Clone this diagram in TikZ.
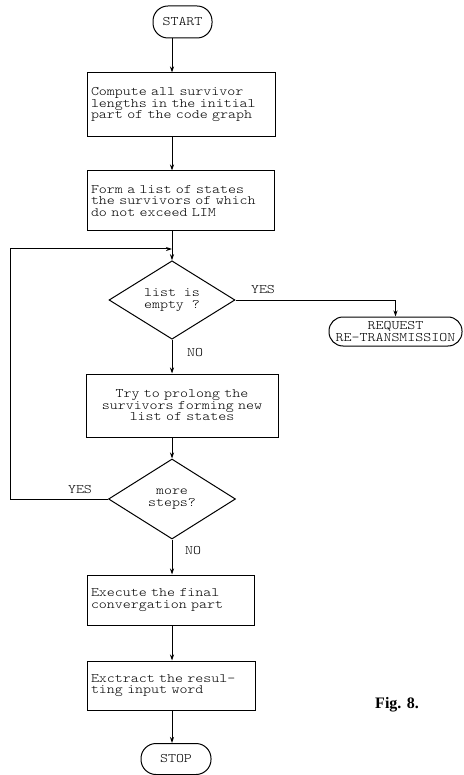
\documentclass[tikz,border=0pt]{standalone}
\usepackage{fontspec}
\setmonofont[FakeStretch=1.17,Extension=.otf]{lmmonolt10-regular}
\newfontfamily\figfont{Liberation Serif}
\usetikzlibrary{shapes.geometric,arrows.meta}
\begin{document}
\begin{tikzpicture}[x=1pt,y=-1pt,
 every node/.style={font=\ttfamily\fontsize{13}{11.5}\selectfont},
 procbox/.style={draw, line width=1pt, inner xsep=4pt, inner ysep=0pt, align=left},
 pill/.style={draw, line width=1pt, rounded corners=15pt, inner sep=0pt, align=center},
 decision/.style={draw, diamond, line width=1pt, inner sep=0pt, align=center},
 arr/.style={line width=1pt, -{Stealth[length=6pt,width=4pt]}},
 lbl/.style={inner sep=0pt}
]
\useasboundingbox (0,0) rectangle (463,775);

\node[pill, minimum width=59pt, minimum height=32pt] (start) at (182.5,22) {START};
\node[procbox, text width=180pt, minimum height=64pt] (b1) at (181,105) {Compute all survivor\\lengths in the initial\\part of the code graph};
\node[procbox, text width=179pt, minimum height=60pt] (b2) at (180.5,201) {Form a list of states\\the survivors of which\\do not exceed LIM};
\node[decision, minimum width=126pt, minimum height=78pt] (d1) at (172,300) {list is\\empty ?};
\node[pill, rounded corners=14pt, minimum width=133pt, minimum height=29pt] (req) at (395.5,331.5) {REQUEST\\RE-TRANSMISSION};
\node[procbox, align=center, text width=184pt, minimum height=63pt] (b3) at (182,405.5) {Try to prolong the\\survivors forming new\\list of states\\[4pt]};
\node[decision, minimum width=127pt, minimum height=80pt] (d2) at (172,499) {more\\steps?};
\node[procbox, text width=159pt, minimum height=50pt] (b4) at (170.5,600) {Execute the final\\convergation part};
\node[procbox, text width=160pt, minimum height=49pt] (b5) at (171,685.5) {Exctract the resul-\\ting input word};
\node[pill, minimum width=70pt, minimum height=31pt] (stop) at (176,759) {STOP};
\node[font=\figfont\bfseries\fontsize{16}{18}\selectfont] (fig) at (397,705) {Fig. 8.};

\node[lbl] (yes1) at (263,290) {YES};
\node[lbl] (no1) at (195,353) {NO};
\node[lbl] (yes2) at (80,490) {YES};
\node[lbl] (no2) at (193,551) {NO};

\coordinate (col) at (172,0);
\coordinate (loopx) at (10,0);
\coordinate (join) at (172,249);

\draw[arr] (start.south -| col) -- (b1.north -| col);
\draw[arr] (b1.south -| col) -- (b2.north -| col);
\draw[arr] (b2.south -| col) -- (d1.north);
\draw[arr] (d1.south) -- (b3.north -| col);
\draw[arr] (b3.south -| col) -- (d2.north);
\draw[arr] (d2.south) -- (b4.north -| col);
\draw[arr] (b4.south -| col) -- (b5.north -| col);
\draw[arr] (b5.south -| col) -- (stop.north -| col);
\draw[arr] (d1.east) -| (req.north);
\draw[arr] (d2.west) -- (d2.west -| loopx) |- (join);
\end{tikzpicture}
\end{document}
